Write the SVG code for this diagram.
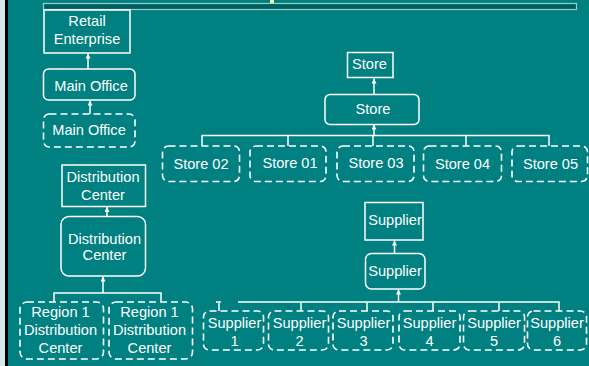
<svg xmlns="http://www.w3.org/2000/svg" width="589" height="366" viewBox="0 0 589 366">
<defs>
<style>
.bg{fill:#008080}
.box{fill:none;stroke:#ffffff;stroke-width:1.5}
.dash{fill:none;stroke:#ffffff;stroke-width:1.6;stroke-dasharray:7 4}
.t{font-family:"Liberation Sans",Arial,sans-serif;font-size:14.6px;fill:#ffffff;text-anchor:middle}
.c{fill:none;stroke:#ffffff;stroke-width:1.5}
</style>
<marker id="ah" viewBox="0 0 6 6" refX="6" refY="3" markerWidth="5" markerHeight="5" markerUnits="userSpaceOnUse" orient="auto">
<path d="M0,0 L6,3 L0,6 z" fill="#ffffff"/>
</marker>
</defs>
<rect class="bg" x="0" y="0" width="589" height="366"/>
<rect x="0" y="0" width="5" height="366" fill="#d8e8e8"/>
<rect x="5" y="0" width="3" height="366" fill="#000000"/>
<rect x="43.5" y="3.5" width="533" height="6" fill="#006060" stroke="#99cccc" stroke-width="1.2"/>
<rect x="270" y="0" width="4" height="3" fill="#ffff99"/>

<g id="connectors">
<line class="c" x1="88" y1="69" x2="88" y2="53.5" marker-end="url(#ah)"/>
<line class="c" x1="90" y1="114" x2="90" y2="100.5" marker-end="url(#ah)"/>
<line class="c" x1="374" y1="94" x2="374" y2="78.5" marker-end="url(#ah)"/>
<path class="c" d="M202,146 V135.5 H549 V146 M288,135.5 V146 M466,135.5 V146 M373,135.5 V146"/>
<line class="c" x1="374" y1="135.5" x2="374" y2="124.5" marker-end="url(#ah)"/>
<line class="c" x1="107" y1="216.5" x2="107" y2="207" marker-end="url(#ah)"/>
<path class="c" d="M54,302 V293 H161 V302"/>
<line class="c" x1="103" y1="293" x2="103" y2="276.5" marker-end="url(#ah)"/>
<line class="c" x1="394.5" y1="253" x2="394.5" y2="240.5" marker-end="url(#ah)"/>
<path class="c" d="M219,311 V302 M216,302 H221 M238,302 H559 V311 M301,302 V311 M367,302 V311 M433,302 V311 M499,302 V311"/>
<line class="c" x1="398.5" y1="302" x2="398.5" y2="289.5" marker-end="url(#ah)"/>
</g>

<g id="retail-enterprise">
<rect class="box" x="44" y="10" width="86" height="43"/>
<text class="t" x="87" y="26">Retail</text>
<text class="t" x="87" y="44">Enterprise</text>
</g>
<g id="main-office">
<rect class="box" x="43.5" y="69" width="91.5" height="31" rx="5"/>
<text class="t" x="91" y="91">Main Office</text>
</g>
<g id="main-office-instance">
<rect class="dash" x="43.5" y="114" width="91.5" height="33" rx="6"/>
<text class="t" x="89" y="135">Main Office</text>
</g>

<g id="store-class">
<rect class="box" x="347.5" y="52.5" width="45.5" height="25"/>
<text class="t" x="369.5" y="69">Store</text>
</g>
<g id="store">
<rect class="box" x="325" y="94.5" width="94" height="30" rx="5"/>
<text class="t" x="373" y="114">Store</text>
</g>
<g id="store-02">
<rect class="dash" x="162.5" y="146" width="77" height="35.5" rx="6"/>
<text class="t" x="201" y="168.5">Store 02</text>
</g>
<g id="store-01">
<rect class="dash" x="250" y="146" width="76" height="35.5" rx="6"/>
<text class="t" x="290" y="167.5">Store 01</text>
</g>
<g id="store-03">
<rect class="dash" x="337" y="146" width="77" height="35.5" rx="6"/>
<text class="t" x="376" y="168">Store 03</text>
</g>
<g id="store-04">
<rect class="dash" x="423.5" y="146" width="78" height="35.5" rx="6"/>
<text class="t" x="462.5" y="168.5">Store 04</text>
</g>
<g id="store-05">
<rect class="dash" x="512" y="146" width="75.5" height="35.5" rx="6"/>
<text class="t" x="550.5" y="168.5">Store 05</text>
</g>

<g id="distribution-center-class">
<rect class="box" x="62" y="165" width="83.5" height="41.5"/>
<text class="t" x="103" y="181.5">Distribution</text>
<text class="t" x="103" y="199.5">Center</text>
</g>
<g id="distribution-center">
<rect class="box" x="61" y="216.5" width="84.5" height="59.5" rx="8"/>
<text class="t" x="104.5" y="243.5">Distribution</text>
<text class="t" x="104.5" y="260">Center</text>
</g>
<g id="region-1-dc-a">
<rect class="dash" x="20" y="302" width="83.5" height="57" rx="7"/>
<text class="t" x="60.5" y="317">Region 1</text>
<text class="t" x="60.5" y="335">Distribution</text>
<text class="t" x="60.5" y="353">Center</text>
</g>
<g id="region-1-dc-b">
<rect class="dash" x="109" y="302" width="83.5" height="57" rx="7"/>
<text class="t" x="149.5" y="317">Region 1</text>
<text class="t" x="149.5" y="335">Distribution</text>
<text class="t" x="149.5" y="353">Center</text>
</g>

<g id="supplier-class">
<rect class="box" x="365" y="202.5" width="58" height="37.5"/>
<text class="t" x="395" y="224.5">Supplier</text>
</g>
<g id="supplier">
<rect class="box" x="365.5" y="253.5" width="59.5" height="35.5" rx="6"/>
<text class="t" x="395" y="276">Supplier</text>
</g>
<g id="supplier-1">
<rect class="dash" x="203.5" y="311" width="60" height="39" rx="6"/>
<text class="t" x="234.5" y="328">Supplier</text>
<text class="t" x="234.5" y="346">1</text>
</g>
<g id="supplier-2">
<rect class="dash" x="268.5" y="311" width="60" height="39" rx="6"/>
<text class="t" x="299.5" y="328">Supplier</text>
<text class="t" x="299.5" y="346">2</text>
</g>
<g id="supplier-3">
<rect class="dash" x="333" y="311" width="60" height="39" rx="6"/>
<text class="t" x="363.5" y="328">Supplier</text>
<text class="t" x="363.5" y="346">3</text>
</g>
<g id="supplier-4">
<rect class="dash" x="399" y="311" width="61" height="39" rx="6"/>
<text class="t" x="429.5" y="328">Supplier</text>
<text class="t" x="429.5" y="346">4</text>
</g>
<g id="supplier-5">
<rect class="dash" x="463.5" y="311" width="61" height="39" rx="6"/>
<text class="t" x="494" y="328">Supplier</text>
<text class="t" x="494" y="346">5</text>
</g>
<g id="supplier-6">
<rect class="dash" x="527.5" y="311" width="59" height="39" rx="6"/>
<text class="t" x="557" y="328">Supplier</text>
<text class="t" x="557" y="346">6</text>
</g>
</svg>
